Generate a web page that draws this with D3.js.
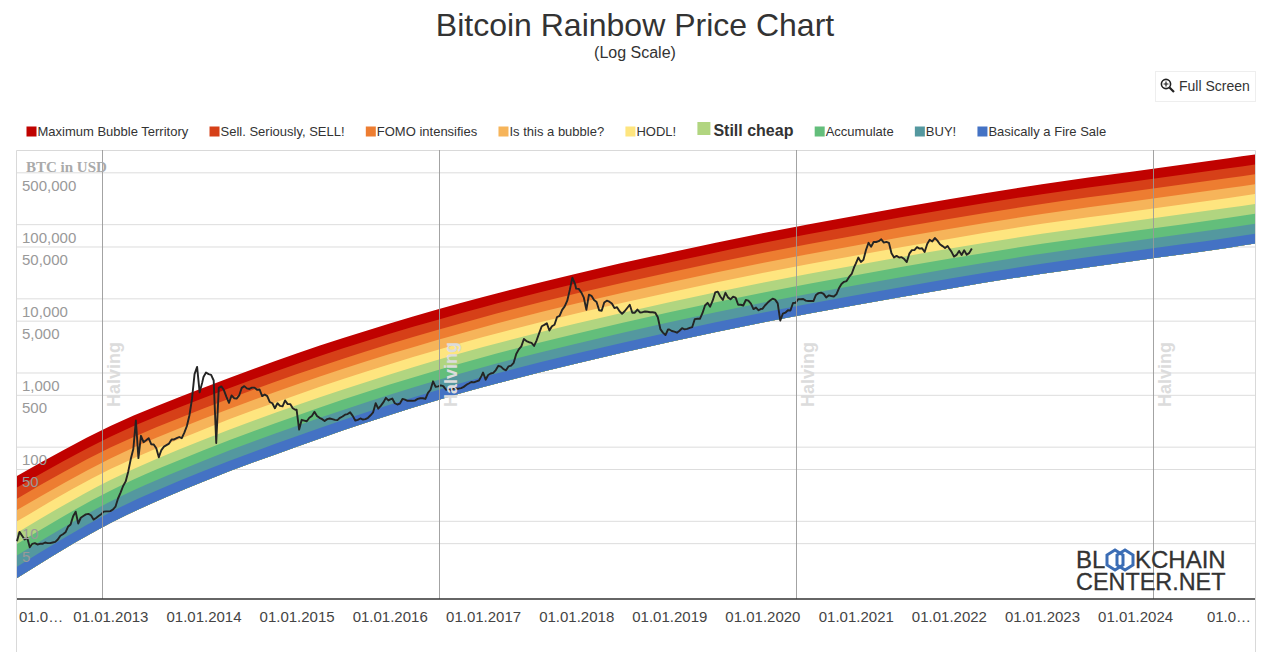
<!DOCTYPE html>
<html>
<head>
<meta charset="utf-8">
<title>Bitcoin Rainbow Price Chart</title>
<script src="https://cdnjs.cloudflare.com/ajax/libs/d3/7.8.5/d3.min.js"></script>
<style>
html,body{margin:0;padding:0;background:#fff;}
svg{display:block;font-family:"Liberation Sans",Arial,sans-serif;}
</style>
</head>
<body>
<svg id="chart" width="1271" height="652"></svg>
<script>
const titleText = "Bitcoin Rainbow Price Chart";
const subtitleText = "(Log Scale)";
const bandNames = ["Maximum Bubble Territory","Sell. Seriously, SELL!","FOMO intensifies","Is this a bubble?","HODL!","Still cheap","Accumulate","BUY!","Basically a Fire Sale"];
const bandColors = ["#c00200","#d64018","#ed7d31","#f6b45a","#fee57f","#b1d580","#63be7b","#54989f","#4472c4"];
const highlightedBand = "Still cheap";

const bandDates = ["2012-01-01","2013-01-01","2014-01-01","2015-01-01","2016-01-01","2017-01-01","2018-01-01","2019-01-01","2020-01-01","2021-01-01","2022-01-01","2023-01-01","2024-01-01","2025-01-01","2025-04-15"];
const bandEdge0 = [40.2,190,625,1800,4560,10400,21500,41300,75700,130000,217000,346000,518000,774000,869000];
const bandEdge1 = [28.2,136,452,1306,3330,7600,15800,30300,55600,95700,160000,254000,380000,569000,640000];
const bandEdge2 = [19.9,97.1,327,946,2430,5570,11600,22300,40800,70300,117000,187000,279000,418000,470000];
const bandEdge3 = [14.0,69.5,237,687,1770,4090,8490,16400,30000,51600,86100,137000,205000,307000,346000];
const bandEdge4 = [9.84,49.8,171,499,1290,3000,6220,12000,22000,37900,63200,101000,151000,225000,255000];
const bandEdge5 = [6.92,35.6,124,361,942,2200,4560,8830,16200,27900,46500,74000,111000,166000,187000];
const bandEdge6 = [4.86,25.5,89.3,262,687,1610,3340,6490,11900,20500,34100,54300,81300,122000,138000];
const bandEdge7 = [3.42,18.2,64.7,190,501,1180,2450,4760,8730,15000,25100,39900,59700,89300,101000];
const bandEdge8 = [2.41,13.1,46.8,138,366,867,1800,3500,6410,11000,18400,29300,43900,65600,74500];
const bandEdge9 = [1.69,9.33,33.8,100,267,635,1320,2570,4710,8110,13500,21500,32200,48200,54800];
const bandEdges = [bandEdge0,bandEdge1,bandEdge2,bandEdge3,bandEdge4,bandEdge5,bandEdge6,bandEdge7,bandEdge8,bandEdge9];

// BTC price in USD, one reading every ten days from 1 January of each year
const price2012 = [5.3,7.1,6.3,5.6,5.9,4.4,4.9,5.0,4.8,4.9,4.9,5.1,5.0,5.0,5.1,5.2,5.6,6.3,6.6,7.0,8.3,8.9,11.5,13.3,9.2,11,11.6,12.2,12.4,11.9,10.4,10.9,11.6,12.3,13.3,13.4,13.4];
const price2013 = [13.5,14.2,15.5,20,24,29.5,34,46,68,93,225,70,140,115,122,130,108,107,95,72,90,100,105,110,125,125,130,135,130,155,190,265,440,950,1190,540,730];
const price2014 = [870,1000,950,930,780,112,620,650,580,470,390,490,450,445,490,620,655,610,600,625,625,585,590,480,505,480,400,385,330,385,355,350,420,375,375,330,315];
const price2015 = [315,170,230,225,220,245,260,295,260,245,235,222,235,240,235,230,228,245,255,270,275,290,260,225,230,240,232,235,245,265,290,385,325,355,395,455,420];
const price2016 = [430,445,385,370,380,440,430,415,415,415,420,440,450,450,440,530,585,760,640,650,670,655,590,575,575,610,605,605,615,640,680,710,745,735,760,780,900];
const price2017 = [1000,800,925,970,990,1080,1230,1200,1110,1070,1210,1240,1350,1780,2050,2250,2830,2650,2560,2510,2280,2720,3400,4200,4380,4600,3680,4200,4400,5600,5800,7000,7800,9300,13000,19000,15800];
const price2018 = [13500,13400,12000,10200,7000,11200,10800,9500,8900,6900,6800,8800,9300,9000,8500,7400,7600,6700,6200,6700,7400,8200,6400,6400,7050,6450,6500,6650,6580,6500,6480,6400,5550,3850,3450,3200,3800];
const price2019 = [3800,3630,3550,3440,3650,3950,3820,3880,4000,4100,5250,5300,5300,6300,8000,8700,7700,9300,12000,12300,10600,9500,11900,10300,9700,10500,10200,8200,8200,8000,9500,9300,8500,7150,7500,6900,7200];
const price2020 = [7200,8000,8700,9350,9900,9600,8550,5000,6200,6400,6900,6850,8650,8700,9700,9700,9780,9300,9190,9240,9200,11100,11750,11950,11500,10300,10950,10750,10600,11350,13650,15600,16700,17100,19400,21300,26500];
const price2021 = [29400,35500,31000,33000,44800,56000,49500,57400,57500,58900,62500,56500,57700,56000,40600,35600,37300,35500,35900,33800,30800,40000,44600,44800,49000,46800,47300,42200,53900,61500,58500,65000,60000,53500,50600,47600,50800];
const price2022 = [47700,42700,36500,38500,43600,38400,44400,38800,41000,47000];
const priceYears = [[2012,price2012],[2013,price2013],[2014,price2014],[2015,price2015],[2016,price2016],[2017,price2017],[2018,price2018],[2019,price2019],[2020,price2020],[2021,price2021],[2022,price2022]];

const yTicks = [500000,100000,50000,10000,5000,1000,500,100,50,10,5];
const xTickDates = ["2012-01-01","2013-01-01","2014-01-01","2015-01-01","2016-01-01","2017-01-01","2018-01-01","2019-01-01","2020-01-01","2021-01-01","2022-01-01","2023-01-01","2024-01-01","2025-01-01"];
const xTickLabels = ["01.0…","01.01.2013","01.01.2014","01.01.2015","01.01.2016","01.01.2017","01.01.2018","01.01.2019","01.01.2020","01.01.2021","01.01.2022","01.01.2023","01.01.2024","01.0…"];
const halvingDates = ["2012-11-28","2016-07-11","2020-05-11","2024-03-12"];
const halvingLabel = "Halving";
const yAxisTitle = "BTC in USD";
const buttonLabel = "Full Screen";

const svg = d3.select("#chart");
const L = 17, R = 1255, T = 150, B = 599;
const parse = d3.utcParse("%Y-%m-%d");
const x = d3.scaleUtc().domain([parse("2012-01-01"), parse("2025-04-15")]).range([L, R]);
const y = d3.scaleLog().domain([0.883, 1000000]).range([B, T]);

// titles
svg.append("text").attr("x",635).attr("y",36).attr("text-anchor","middle")
  .attr("font-size",32).attr("fill","#333").text(titleText);
svg.append("text").attr("x",635).attr("y",58).attr("text-anchor","middle")
  .attr("font-size",16).attr("fill","#333").text(subtitleText);

// full screen button
const btn = svg.append("g");
btn.append("rect").attr("x",1155.5).attr("y",71.5).attr("width",100).attr("height",30)
  .attr("fill","#fff").attr("stroke","#eee");
const icon = btn.append("g").attr("fill","none").attr("stroke","#222");
icon.append("circle").attr("cx",1166).attr("cy",84).attr("r",4.6).attr("stroke-width",1.6);
icon.append("path").attr("d","M1169.5 87.5L1174 92").attr("stroke-width",2.2);
icon.append("path").attr("d","M1163.6 84H1168.4M1166 81.6V86.4").attr("stroke-width",1.2);
btn.append("text").attr("x",1179).attr("y",91).attr("font-size",14).attr("fill","#333").text(buttonLabel);

// legend
let lx = 26.5;
bandNames.forEach((name,i)=>{
  const hi = name === highlightedBand;
  const s = hi ? 13 : 10;
  svg.append("rect").attr("x",lx).attr("y",hi?122:126.5).attr("width",s).attr("height",s).attr("fill",bandColors[i]);
  const t = svg.append("text").attr("x",lx+s+(hi?3:1)).attr("y",136)
    .attr("font-size",hi?16:13).attr("font-weight",hi?"bold":"normal").attr("fill","#333").text(name);
  lx += s+(hi?3:1)+t.node().getComputedTextLength()+21.25;
});

// frame
const frame = svg.append("g").attr("stroke","#d9d9d9").attr("fill","none");
frame.append("path").attr("d",`M${L-0.5} 652V${T+0.5}H${R+0.5}V652`);

// gridlines
const grid = svg.append("g").attr("transform",`translate(${L},0)`)
  .call(d3.axisRight(y).tickValues(yTicks).tickSize(R-L).tickFormat(""));
grid.select(".domain").remove();
grid.selectAll("line").attr("stroke","#ddd");

// rainbow bands, painted from the top edge downwards so no seam shows
const bandX = bandDates.map(parse);
bandColors.forEach((c,i)=>{
  const area = d3.area().x((d,j)=>x(bandX[j])).y1((d,j)=>y(bandEdges[i][j])).y0((d,j)=>y(bandEdge9[j])).curve(d3.curveMonotoneX);
  svg.append("path").attr("d",area(bandX)).attr("fill",c);
});

// price
const priceData = priceYears.flatMap(([yr,vals])=>vals.map((v,i)=>({date:d3.utcDay.offset(new Date(Date.UTC(yr,0,1)),i*10),v})));
svg.append("path").datum(priceData)
  .attr("d",d3.line().x(d=>x(d.date)).y(d=>y(d.v)))
  .attr("fill","none").attr("stroke","#242424").attr("stroke-width",1.9).attr("stroke-linejoin","round");

// halving markers
halvingDates.map(parse).forEach(d=>{
  const px = Math.round(x(d))+0.5;
  svg.append("line").attr("x1",px).attr("x2",px).attr("y1",T).attr("y2",B).attr("stroke","#999").attr("stroke-opacity",0.9);
  svg.append("text").attr("transform",`translate(${px+17},374.5) rotate(-90)`).attr("text-anchor","middle")
    .attr("font-size",18).attr("font-weight","bold").attr("fill","#dcdcdc").text(halvingLabel);
});

// y labels
const yLab = svg.append("g").attr("transform",`translate(${L},0)`)
  .call(d3.axisRight(y).tickValues(yTicks).tickSize(0).tickPadding(5).tickFormat(d3.format(",")));
yLab.select(".domain").remove();
yLab.selectAll("text").attr("dy",18).attr("font-size",15).attr("fill","#999").attr("font-family","\"Liberation Sans\",Arial,sans-serif");
svg.append("text").attr("x",26).attr("y",172).attr("font-family","\"Liberation Serif\",serif").attr("font-weight","bold")
  .attr("font-size",15).attr("fill","#aaa").text(yAxisTitle);

// x axis
const xAxis = svg.append("g").attr("transform",`translate(0,${B})`)
  .call(d3.axisBottom(x).tickValues(xTickDates.map(parse)).tickSize(0).tickPadding(12)
    .tickFormat((d,i)=>xTickLabels[i]));
xAxis.select(".domain").attr("stroke","#333").attr("stroke-width",1.5).attr("d",`M${L},0H${R}`);
xAxis.selectAll("text").attr("font-size",15).attr("fill","#444").attr("font-family","\"Liberation Sans\",Arial,sans-serif");
xAxis.selectAll("text").filter((d,i)=>i===0).attr("text-anchor","start").attr("x",1.5);

// logo
const logo = svg.append("g").attr("font-size",24).attr("fill","#333").attr("stroke","#333").attr("stroke-width",0.3);
logo.append("text").attr("x",1076).attr("y",568).text("BL");
logo.append("text").attr("x",1135).attr("y",568).text("KCHAIN");
logo.append("text").attr("x",1076).attr("y",589.5).attr("font-size",23.4).text("CENTER.NET");
const hex = svg.append("g").attr("fill","none").attr("stroke","#3b6db5").attr("stroke-width",3);
[1115,1125].forEach(cx=>{
  hex.append("path").attr("d",`M${cx} 550L${cx+8} 555V565L${cx} 570L${cx-8} 565V555Z`);
});
</script>
</body>
</html>
